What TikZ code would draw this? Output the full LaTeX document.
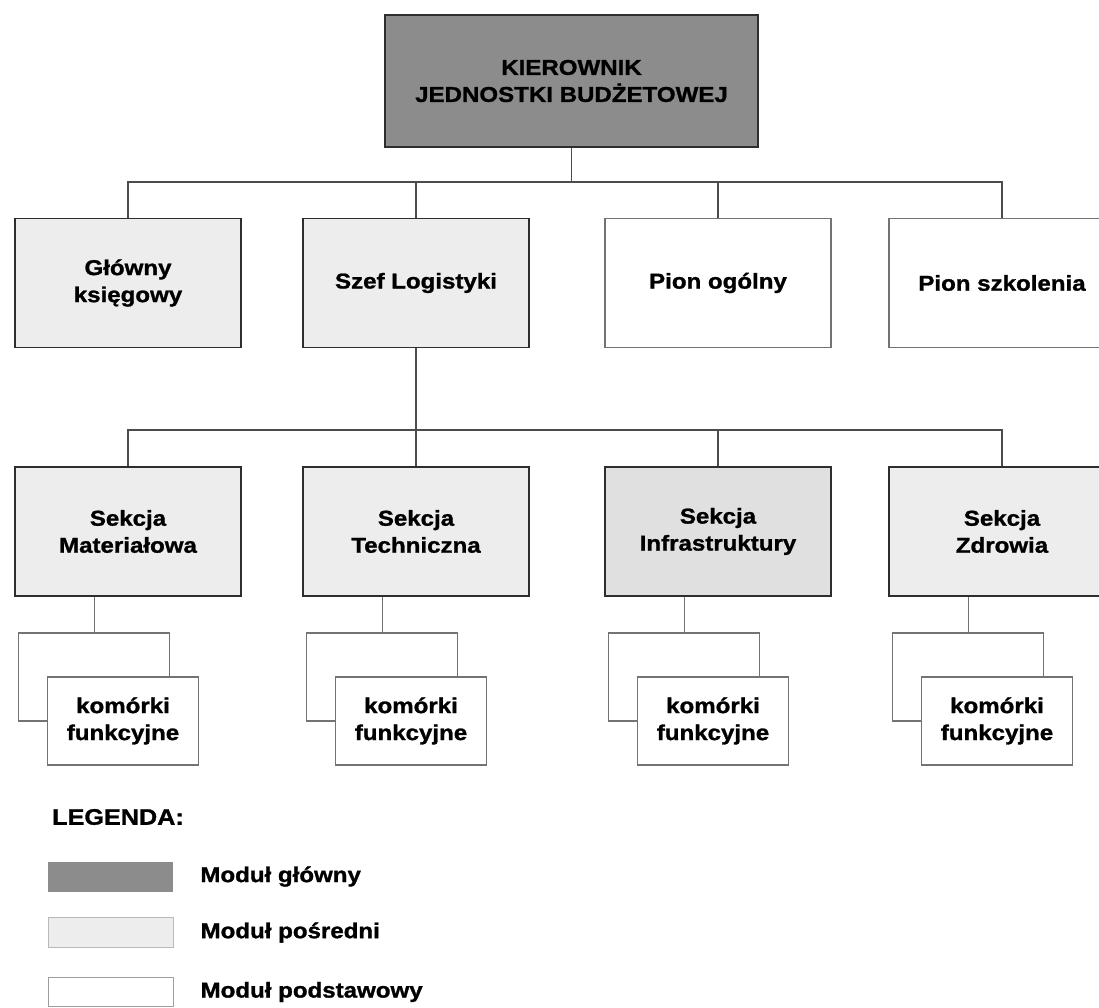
\documentclass[tikz,border=0pt]{standalone}
\usepackage{fontspec}
\setmainfont{Liberation Sans}[FakeStretch=1.12,BoldFeatures={FakeBold=1.2}]
\usetikzlibrary{calc}
\usetikzlibrary{positioning}
\definecolor{cGlowny}{gray}{0.55}
\definecolor{cPosredni}{gray}{0.93}
\definecolor{cInfra}{gray}{0.88}
\definecolor{cRamka}{gray}{0.18}
\definecolor{cLinia}{gray}{0.3}
\definecolor{cSzary}{gray}{0.45}

\begin{document}
\begin{tikzpicture}[x=1pt,y=-1pt]

		\def\bok{226}
		\def\wys{129}

		\tikzset{line/.style={draw=cLinia,line width=1.4pt}}
		\tikzset{modul/.style={draw=cRamka,line width=1.8pt,align=center,inner sep=2pt,font=\bfseries\fontsize{21.5}{27}\selectfont}}
		\tikzset{glowny/.style={modul,fill=cGlowny,minimum width=373pt,minimum height=132pt}}
		\tikzset{posredni/.style={modul,fill=cPosredni,minimum width=\bok pt,minimum height=\wys pt}}
		\tikzset{podstawowy/.style={modul,draw=cSzary,line width=1.3pt,fill=white,minimum width=\bok pt,minimum height=\wys pt}}
		\tikzset{komorka/.style={podstawowy,minimum width=151pt,minimum height=88pt}}
		\tikzset{swatch/.style={inner sep=0pt,minimum width=125pt,minimum height=30pt}}
		\tikzset{legtext/.style={anchor=west,inner sep=0pt,font=\bfseries\fontsize{21.5}{27}\selectfont}}

		\useasboundingbox (0,0) rectangle (1099,1008);

		\node[glowny] (kjb) at (571.5,81) {KIEROWNIK\\JEDNOSTKI BUDŻETOWEJ};

		\node[posredni] (gk) at (128,283) {Główny\\księgowy};
		\node[posredni] (sl) at (416,283) {Szef Logistyki};
		\node[podstawowy] (po) at (718,283) {Pion ogólny};
		\node[podstawowy] (ps) at (1002,283) {Pion szkolenia};

		\node[posredni] (sm) at (128,531.5) {Sekcja\\Materiałowa};
		\node[posredni] (st) at (416,531.5) {Sekcja\\Techniczna};
		\node[posredni,fill=cInfra] (si) at (718,531.5) {Sekcja\\Infrastruktury};
		\node[posredni] (sz) at (1002,531.5) {Sekcja\\Zdrowia};

		\coordinate (bus1) at (0,182);
		\coordinate (bus2) at (0,430);

		\draw[line] (kjb.south) -- (kjb.south |- bus1);
		\draw[line] (gk.north) -- (gk.north |- bus1) -- (ps.north |- bus1) -- (ps.north);
		\draw[line] (sl.north) -- (sl.north |- bus1);
		\draw[line] (po.north) -- (po.north |- bus1);

		\draw[line] (sl.south) -- (sl.south |- bus2);
		\draw[line,line width=1.8pt] (sm.north) -- (sm.north |- bus2) -- (sz.north |- bus2) -- (sz.north);
		\draw[line] (st.north) -- (st.north |- bus2);
		\draw[line] (si.north) -- (si.north |- bus2);

		% komorki: tlo + karta z opisem
		\foreach \s in {sm,st,si,sz} {
			\node[komorka] (\s-tlo) at ($(\s.south)+(-34,80)$) {};
			\node[komorka] (\s-kf) at ($(\s-tlo)+(29,44)$) {komórki\\funkcyjne};
			\draw[line,draw=cSzary,line width=1pt] (\s-tlo.north) -- (\s-tlo.north |- \s.south);
		}

		\node[legtext,font=\bfseries\fontsize{22.5}{27}\selectfont] (leg) at (52,817) {LEGENDA:};

		\node[swatch,fill=cGlowny] (lg1) at (110.5,876.5) {};
		\node[swatch,fill=cPosredni,draw=cSzary!50,line width=0.8pt] (lg2) at (110.5,932.5) {};
		\node[swatch,draw=cSzary!70,line width=0.8pt,minimum height=29pt] (lg3) at (110.5,992) {};

		\node[legtext,right=27pt of lg1] (lt1) {Moduł główny};
		\node[legtext,right=27pt of lg2] (lt2) {Moduł pośredni};
		\node[legtext,right=27pt of lg3] (lt3) {Moduł podstawowy};

	\end{tikzpicture}
\end{document}
